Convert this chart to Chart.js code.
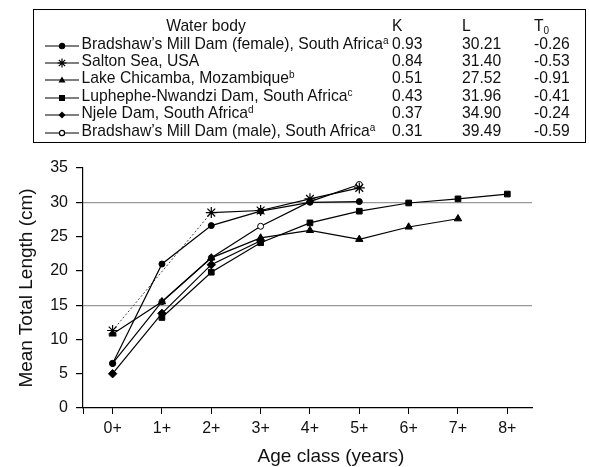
<!DOCTYPE html>
<html>
<head>
<meta charset="utf-8">
<script src="https://cdn.jsdelivr.net/npm/chart.js@4/dist/chart.umd.min.js"></script>
<style>
  body { margin: 0; background: #fff; font-family: "Liberation Sans", Arial, sans-serif; }
  #wrap { position: relative; width: 589px; height: 467px; overflow: hidden; }
  #chart { position: absolute; left: 0; top: 0; }
  #key { position: absolute; left: 33px; top: 9px; width: 553px; height: 134px; border: 1px solid #000; box-sizing: border-box; }
  .t { position: absolute; font-size: 15.7px; line-height: 18px; color: #111; white-space: nowrap; }
  .t sup { font-size: 10px; vertical-align: 5px; line-height: 0; }
  .t sub { font-size: 10px; vertical-align: -3px; line-height: 0; }
  .sw { position: absolute; }
  .axt { position: absolute; font-size: 19px; line-height: 22px; color: #111; white-space: nowrap; text-align: center; }
</style>
</head>
<body>
<div id="wrap">
  <canvas id="chart" width="589" height="467"></canvas>
  <div id="key"></div>
  <div class="axt" style="left:131px; top:445px; width:400px;">Age class (years)</div>
  <div class="axt" style="left:-174px; top:277px; width:400px; transform:rotate(-90deg);">Mean Total Length (cm)</div>
</div>
<script>
// age classes (years)
const ages = [0, 1, 2, 3, 4, 5, 6, 7, 8];
const yTicks = [0, 5, 10, 15, 20, 25, 30, 35];

// mean total length (cm) per age class
const bradshawFemale = [6.5, 21.0, 26.6, 28.7, 30.0, 30.1];
const saltonSea = [11.3, null, 28.5, 28.8, 30.5, 32.1];
const lakeChicamba = [10.8, 15.5, 21.9, 24.8, 25.9, 24.6, 26.4, 27.6];
const luphephe = [null, 13.2, 19.8, 24.1, 27.0, 28.7, 29.9, 30.5, 31.2];
const njele = [5.0, 13.8, 20.9, 24.4];
const bradshawMale = [6.5, 15.5, 21.9, 26.5, 30.1, 32.6];

// growth parameters shown in the key
const waterBodies = [
    ["Bradshaw\u2019s Mill Dam (female), South Africa", "a"],
    ["Salton Sea, USA", ""],
    ["Lake Chicamba, Mozambique", "b"],
    ["Luphephe-Nwandzi Dam, South Africa", "c"],
    ["Njele Dam, South Africa", "d"],
    ["Bradshaw\u2019s Mill Dam (male), South Africa", "a"]
];
const kValues = ["0.93", "0.84", "0.51", "0.43", "0.37", "0.31"];
const lValues = ["30.21", "31.40", "27.52", "31.96", "34.90", "39.49"];
const t0Values = ["-0.26", "-0.53", "-0.91", "-0.41", "-0.24", "-0.59"];

const seriesData = [bradshawFemale, saltonSea, lakeChicamba, luphephe, njele, bradshawMale];
const markers = ['circle', 'star', 'triangle', 'rect', 'rectRot', 'circle'];
const markerSize = [3, 5.5, 4.2, 4, 4.2, 3];
const markerFill = ['#000', '#000', '#000', '#000', '#000', '#fff'];

// key (table) built as html
const key = document.getElementById('key');
function addText(x, y, html) {
    const d = document.createElement('div');
    d.className = 't';
    d.style.left = x + 'px';
    d.style.top = (y - 9) + 'px';
    d.innerHTML = html;
    key.appendChild(d);
    return d;
}
function swatch(i) {
    const c = 'stroke="#000" stroke-width="1.2"';
    let m = '';
    if (markers[i] === 'circle') {
        m = '<circle cx="17" cy="6" r="2.6" fill="' + markerFill[i] + '" ' + c + '/>';
    } else if (markers[i] === 'star') {
        m = '<path d="M12.5 6H21.5M17 1.5V10.5M13.8 2.8L20.2 9.2M20.2 2.8L13.8 9.2" ' + c + '/>';
    } else if (markers[i] === 'triangle') {
        m = '<polygon points="17,2.5 20.5,8.5 13.5,8.5" fill="#000"/>';
    } else if (markers[i] === 'rect') {
        m = '<rect x="14" y="3" width="6" height="6" fill="#000"/>';
    } else {
        m = '<polygon points="17,2.5 20.5,6 17,9.5 13.5,6" fill="#000"/>';
    }
    return '<svg width="34" height="12"><line x1="0" y1="6" x2="34" y2="6" ' + c + '/>' + m + '</svg>';
}
const headerDiv = addText(0, 16, 'Water body');
headerDiv.style.left = '0px';
headerDiv.style.width = '344px';
headerDiv.style.textAlign = 'center';
addText(358, 16, 'K');
addText(428, 16, 'L');
addText(500, 16, 'T<sub>0</sub>');
for (let i = 0; i < waterBodies.length; i++) {
    const y = 33.7 + i * 17.38;
    const s = document.createElement('div');
    s.className = 'sw';
    s.style.left = '11px';
    s.style.top = (y - 6) + 'px';
    s.innerHTML = swatch(i);
    key.appendChild(s);
    const name = waterBodies[i][0] + (waterBodies[i][1] ? '<sup>' + waterBodies[i][1] + '</sup>' : '');
    addText(47.5, y, name);
    addText(358, y, kValues[i]);
    addText(428, y, lValues[i]);
    addText(500, y, t0Values[i]);
}

// chart
Chart.defaults.font.family = '"Liberation Sans", Arial, sans-serif';
Chart.defaults.color = '#111';

const gapDash = (ctx, value) => ctx.p0.skip || ctx.p1.skip ? value : undefined;

const datasets = seriesData.map(function (vals, i) {
    return {
        label: waterBodies[i][0],
        data: vals.map((v, j) => ({ x: ages[j], y: v })),
        borderColor: '#000',
        borderWidth: 1.2,
        pointStyle: markers[i],
        pointRadius: markerSize[i],
        pointBackgroundColor: markerFill[i],
        pointBorderColor: '#000',
        pointBorderWidth: markers[i] === 'star' ? 1.2 : 1,
        spanGaps: true,
        segment: {
            borderDash: ctx => gapDash(ctx, [2, 2]),
            borderColor: ctx => gapDash(ctx, '#444'),
            borderWidth: ctx => gapDash(ctx, 1)
        },
        tension: 0
    };
});

new Chart(document.getElementById('chart'), {
    type: 'line',
    data: { datasets: datasets },
    options: {
        responsive: false,
        animation: false,
        layout: { padding: { left: 0, right: 57, top: 168, bottom: 0 } },
        plugins: { legend: { display: false }, tooltip: { enabled: false } },
        scales: {
            x: {
                type: 'linear',
                min: -0.6,
                max: 8.5,
                afterBuildTicks: function (scale) {
                    scale.ticks = [-0.6].concat(ages).map(v => ({ value: v }));
                },
                afterFit: function (scale) { scale.height = 59; },
                ticks: {
                    font: { size: 16 },
                    padding: 5,
                    maxRotation: 0,
                    autoSkip: false,
                    callback: v => (v >= 0 ? v + '+' : '')
                },
                grid: { color: 'rgba(0,0,0,0)', tickColor: '#000', tickLength: 6, drawOnChartArea: false },
                border: { color: '#000', width: 1.2 }
            },
            y: {
                min: 0,
                max: 35,
                afterBuildTicks: function (scale) {
                    scale.ticks = yTicks.map(v => ({ value: v }));
                },
                afterFit: function (scale) { scale.width = 83; },
                ticks: { font: { size: 16 }, padding: 8 },
                grid: {
                    color: ctx => (ctx.tick && (ctx.tick.value === 15 || ctx.tick.value === 30) ? '#999' : 'rgba(0,0,0,0)'),
                    tickColor: '#000',
                    tickLength: 7,
                    lineWidth: 1.2
                },
                border: { color: '#000', width: 1.2 }
            }
        }
    }
});
</script>
</body>
</html>
